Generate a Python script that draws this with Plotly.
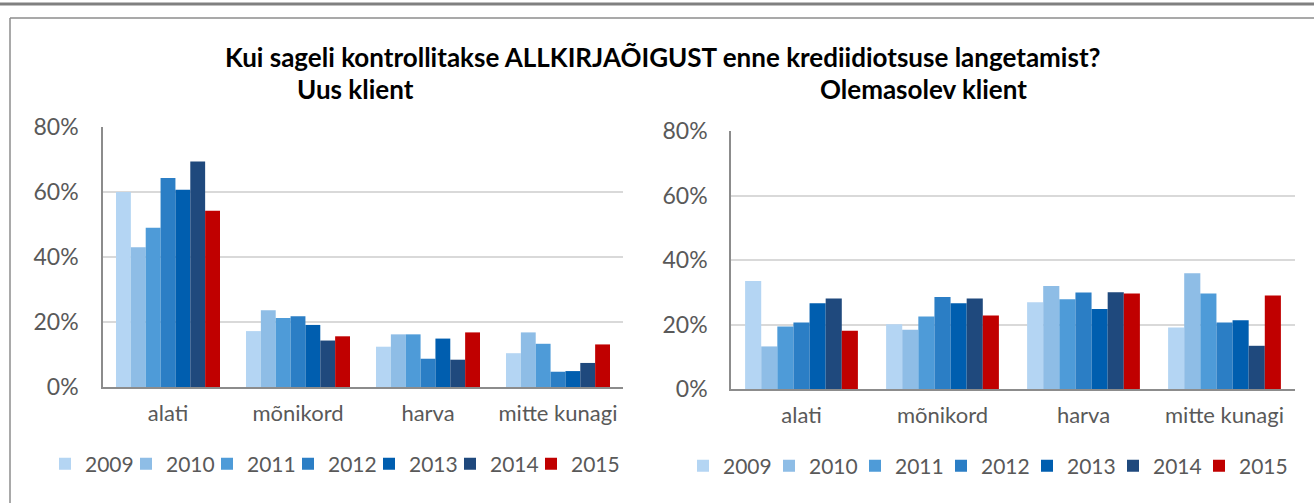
import plotly.graph_objects as go

categories = ["alati", "mõnikord", "harva", "mitte kunagi"]
years = ["2009", "2010", "2011", "2012", "2013", "2014", "2015"]
colors = ["#B4D5F3", "#8EBDE6", "#4E9BD8", "#2B7EC5", "#005EAF", "#1F497D", "#C00000"]

# Uus klient (new client), share per category for each year
uus = {
    "2009": [0.60, 0.172, 0.124, 0.104],
    "2010": [0.43, 0.236, 0.162, 0.168],
    "2011": [0.49, 0.212, 0.162, 0.133],
    "2012": [0.643, 0.218, 0.087, 0.047],
    "2013": [0.607, 0.191, 0.149, 0.049],
    "2014": [0.694, 0.143, 0.084, 0.074],
    "2015": [0.542, 0.156, 0.168, 0.131],
}
# Olemasolev klient (existing client)
olemasolev = {
    "2009": [0.335, 0.201, 0.269, 0.191],
    "2010": [0.132, 0.184, 0.319, 0.359],
    "2011": [0.194, 0.225, 0.278, 0.296],
    "2012": [0.206, 0.285, 0.299, 0.206],
    "2013": [0.266, 0.266, 0.248, 0.213],
    "2014": [0.281, 0.281, 0.300, 0.134],
    "2015": [0.181, 0.228, 0.296, 0.290],
}

title_text = "Kui sageli kontrollitakse ALLKIRJAÕIGUST enne krediidiotsuse langetamist?"
sub_left = "Uus klient"
sub_right = "Olemasolev klient"

W, H = 1314, 503
FONT = "Lato"
TICK_COLOR = "#595959"

fig = go.Figure()
for i, y in enumerate(years):
    fig.add_trace(go.Bar(x=categories, y=uus[y], name=y, marker_color=colors[i],
                         marker_line_width=0, xaxis="x", yaxis="y", legend="legend"))
for i, y in enumerate(years):
    fig.add_trace(go.Bar(x=categories, y=olemasolev[y], name=y, marker_color=colors[i],
                         marker_line_width=0, xaxis="x2", yaxis="y2", legend="legend2"))
# invisible spacer entries so the last legend label is not clipped
for ax, lg in (("", "legend"), ("2", "legend2")):
    fig.add_trace(go.Scatter(x=[None], y=[None], mode="markers", name=" ",
                             marker=dict(color="rgba(0,0,0,0)"),
                             xaxis="x" + ax, yaxis="y" + ax, legend=lg, hoverinfo="skip"))

def px_x(v):
    return v / W

def px_y(v):
    return 1 - v / H

axis_common = dict(
    showline=True, linecolor="#8C8C8C", linewidth=1.5, automargin=False,
    tickfont=dict(family=FONT, size=22, color=TICK_COLOR),
    ticks="", fixedrange=True,
)
ytick = dict(family=FONT, size=23, color=TICK_COLOR)

fig.update_layout(
    width=W, height=H,
    margin=dict(l=0, r=0, t=0, b=0, autoexpand=False),
    paper_bgcolor="white", plot_bgcolor="white",
    barmode="group", bargap=0.2, bargroupgap=0,
    font=dict(family=FONT, color=TICK_COLOR),
    xaxis=dict(domain=[px_x(103), px_x(623)], anchor="y", ticklabelstandoff=6, **axis_common),
    yaxis=dict(domain=[px_y(387), px_y(127)], anchor="x", range=[0, 0.8], dtick=0.2,
               tickformat=".0%", showgrid=True, gridcolor="#D9D9D9", gridwidth=1.5,
               ticklabelstandoff=18, zeroline=False, **{**axis_common, "tickfont": ytick}),
    xaxis2=dict(domain=[px_x(731), px_x(1295)], anchor="y2", ticklabelstandoff=6, **axis_common),
    yaxis2=dict(domain=[px_y(389), px_y(131)], anchor="x2", range=[0, 0.8], dtick=0.2,
                tickformat=".0%", showgrid=True, gridcolor="#D9D9D9", gridwidth=1.5,
                ticklabelstandoff=17, zeroline=False, **{**axis_common, "tickfont": ytick}),
    legend=dict(orientation="h", x=px_x(45), xanchor="left", y=px_y(464), yanchor="middle",
                font=dict(family=FONT, size=21, color=TICK_COLOR),
                entrywidth=36, entrywidthmode="pixels", itemclick=False, itemdoubleclick=False),
    legend2=dict(orientation="h", x=px_x(683), xanchor="left", y=px_y(466), yanchor="middle",
                 font=dict(family=FONT, size=21, color=TICK_COLOR),
                 entrywidth=41, entrywidthmode="pixels", itemclick=False, itemdoubleclick=False),
    showlegend=True,
)

fig.add_annotation(text="<b>" + title_text + "</b>", x=px_x(663), y=px_y(57),
                   xref="paper", yref="paper", showarrow=False, xanchor="center", yanchor="middle",
                   font=dict(family=FONT, size=26, color="black"))
fig.add_annotation(text="<b>" + sub_left + "</b>", x=px_x(355), y=px_y(89),
                   xref="paper", yref="paper", showarrow=False, xanchor="center", yanchor="middle",
                   font=dict(family=FONT, size=26, color="black"))
fig.add_annotation(text="<b>" + sub_right + "</b>", x=px_x(923), y=px_y(89),
                   xref="paper", yref="paper", showarrow=False, xanchor="center", yanchor="middle",
                   font=dict(family=FONT, size=26, color="black"))

# outer frame lines
fig.add_shape(type="line", xref="paper", yref="paper", x0=0, x1=1, y0=px_y(4), y1=px_y(4),
              line=dict(color="#808080", width=3))
fig.add_shape(type="line", xref="paper", yref="paper", x0=px_x(10), x1=1, y0=px_y(18), y1=px_y(18),
              line=dict(color="#8C8C8C", width=1.5))
fig.add_shape(type="line", xref="paper", yref="paper", x0=px_x(10), x1=px_x(10), y0=0, y1=px_y(18),
              line=dict(color="#8C8C8C", width=1.5))

fig.write_html(
    "out.html",
    config={"displayModeBar": False},
    post_script="document.body.style.margin='0';document.body.style.overflow='hidden';",
)
